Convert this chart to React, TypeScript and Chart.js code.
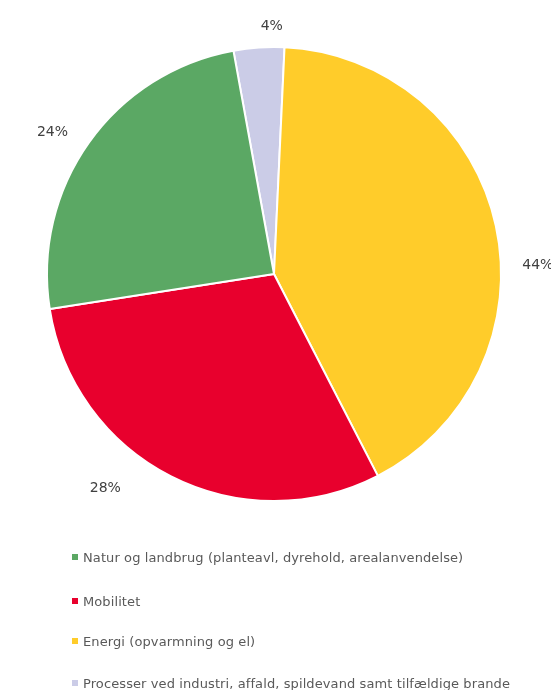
import React, { useEffect, useRef } from "react";
import { Chart, registerables } from "chart.js";

Chart.register(...registerables);

// Data in legend order
const CATEGORIES = [
  "Natur og landbrug (planteavl, dyrehold, arealanvendelse)",
  "Mobilitet",
  "Energi (opvarmning og el)",
  "Processer ved industri, affald, spildevand samt tilfældige brande",
];
const VALUES = [24.6, 30.1, 41.7, 3.6];
const VALUE_LABELS = ["24%", "28%", "44%", "4%"];
const COLORS = ["#5BA864", "#E8002D", "#FFCC2A", "#CBCCE7"];

// Label placement tweaks (legend order): angular nudge (deg, clockwise) and gap beyond the rim (px)
const LABEL_NUDGE = [-2.8, 11.2, 10.3, 3.3];
const LABEL_GAP = [36, 46, 37, 21];

const FONT = "'DejaVu Sans', Verdana, sans-serif";

export default function App() {
  const ref = useRef<HTMLCanvasElement | null>(null);

  useEffect(() => {
    if (!ref.current) return;
    // slices run counter-clockwise in legend order -> reverse for Chart.js (clockwise)
    const order = [3, 2, 1, 0];
    const labelPlugin = {
      id: "outsideLabels",
      afterDatasetsDraw(chart: any) {
        const ctx = chart.ctx;
        const meta = chart.getDatasetMeta(0);
        ctx.save();
        ctx.font = `14px ${FONT}`;
        ctx.fillStyle = "#404040";
        ctx.textAlign = "center";
        ctx.textBaseline = "middle";
        meta.data.forEach((arc: any, i: number) => {
          const src = order[i];
          const p = arc.getProps(["x", "y", "startAngle", "endAngle", "outerRadius"], true);
          const mid = (p.startAngle + p.endAngle) / 2 + (LABEL_NUDGE[src] * Math.PI) / 180;
          const r = p.outerRadius + LABEL_GAP[src];
          ctx.fillText(VALUE_LABELS[src], p.x + r * Math.cos(mid), p.y + r * Math.sin(mid));
        });
        ctx.restore();
      },
    };
    const chart = new Chart(ref.current, {
      type: "pie",
      data: {
        labels: order.map((i) => CATEGORIES[i]),
        datasets: [
          {
            data: order.map((i) => VALUES[i]),
            backgroundColor: order.map((i) => COLORS[i]),
            borderColor: "#ffffff",
            borderWidth: 2,
          },
        ],
      },
      options: {
        responsive: false,
        animation: false,
        rotation: -10.3,
        layout: { padding: { left: 46, right: 49, top: 46, bottom: 188 } },
        plugins: { legend: { display: false }, tooltip: { enabled: false } },
      },
      plugins: [labelPlugin],
    });
    return () => chart.destroy();
  }, []);

  const rowTops = [557, 601, 641, 683];
  return (
    <div style={{ position: "absolute", left: 0, top: 0, width: 551, height: 690, overflow: "hidden", background: "#fff" }}>
      <canvas ref={ref} width={551} height={690} style={{ position: "absolute", left: 0, top: 0 }} />
      {CATEGORIES.map((c, i) => (
        <div
          key={c}
          style={{
            position: "absolute",
            left: 72,
            top: rowTops[i] - 9,
            height: 18,
            display: "flex",
            alignItems: "center",
            whiteSpace: "nowrap",
            fontFamily: FONT,
            fontSize: 13,
            letterSpacing: "0.1px",
            color: "#595959",
          }}
        >
          <span style={{ display: "inline-block", width: 6, height: 6, background: COLORS[i], marginRight: 5 }} />
          <span>{c}</span>
        </div>
      ))}
    </div>
  );
}
